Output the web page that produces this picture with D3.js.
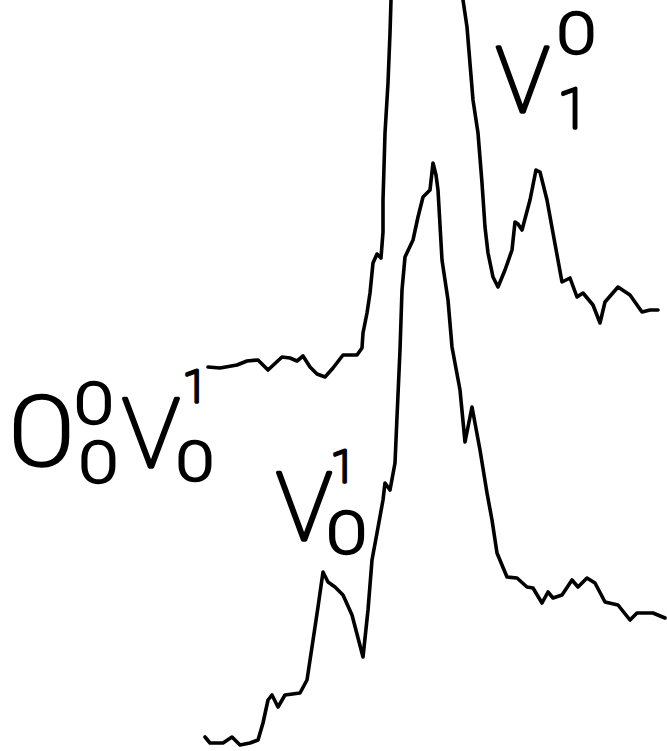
<!DOCTYPE html>
<html>
<head>
<meta charset="utf-8">
<script src="https://cdn.jsdelivr.net/npm/d3@7"></script>
<style>
  html, body { margin: 0; padding: 0; background: #fff; }
  svg { display: block; }
  .lbl { font-family: Roboto, "DejaVu Sans", sans-serif; font-weight: 100;
         fill: #000; stroke: #000; stroke-width: 3.4; stroke-linejoin: round; }
</style>
</head>
<body>
<svg id="chart" width="667" height="751"></svg>
<script>
// Upper trace: band around the strong origin peak, with the V(1,0) shoulder to the right
const upperX = [1.6, 4.0, 7.4, 9.4, 11.6, 13.6, 16.4, 18.0, 19.4, 20.6, 22.0, 23.4, 25.0, 26.6,
  28.6, 31.4, 32.4, 32.6, 33.4, 34.0, 34.6, 35.4, 36.2, 36.6, 36.6, 36.8, 37.0, 37.6, 38.0, 38.2, 38.4,
  52.4, 52.6, 53.4, 54.6, 55.6, 56.4, 57.0, 57.6, 58.6, 59.6, 61.0, 62.4, 63.0, 63.6, 64.4, 66.0,
  67.2, 68.0, 69.4, 70.6, 72.4, 74.0, 75.4, 76.6, 78.6, 80.0, 81.0, 83.6, 86.0, 88.4, 90.0, 91.6];
const upperY = [76.8, 76.6, 77.2, 78.0, 78.2, 76.2, 78.8, 78.6, 78.0, 79.0, 76.8, 75.4, 74.8, 76.6,
  79.2, 79.2, 80.6, 83.6, 87.6, 91.6, 97.6, 99.4, 98.6, 103.8, 110.2, 116.8, 123.6, 133.6, 143.6, 150.2, 156.2,
  156.2, 150.2, 144.8, 130.2, 123.6, 113.6, 104.8, 99.6, 94.8, 92.8, 96.2, 100.2, 105.8, 105.4, 104.2, 110.2,
  116.2, 115.8, 110.2, 103.6, 93.8, 94.6, 90.8, 91.6, 89.2, 85.6, 89.8, 92.8, 91.2, 87.8, 88.2, 88.2];

// Lower trace: V(0,1) band and its neighbours
const lowerX = [1.0, 2.0, 4.6, 6.4, 8.0, 10.0, 11.6, 12.6, 13.6, 14.4, 15.6, 17.0, 20.0, 21.4, 22.4,
  23.6, 24.6, 25.6, 27.0, 28.6, 30.4, 32.6, 33.6, 34.4, 35.4, 36.6, 37.0, 38.0, 39.0, 39.4, 40.0,
  40.4, 41.0, 42.6, 43.6, 44.6, 46.0, 46.6, 47.2, 47.6, 48.4, 49.6, 50.4, 52.0, 53.0, 54.4, 56.0,
  57.4, 58.4, 59.4, 61.4, 63.4, 65.4, 66.6, 68.4, 69.6, 70.6, 72.4, 74.4, 75.6, 77.4, 79.0, 81.0,
  83.6, 86.0, 87.4, 90.6, 93.0];
const lowerY = [2.8, 1.6, 1.6, 2.8, 1.2, 1.6, 2.2, 5.6, 10.2, 11.2, 8.8, 11.2, 11.6, 14.2, 20.8,
  28.8, 35.8, 33.8, 32.8, 31.2, 27.2, 18.8, 28.2, 38.2, 43.6, 50.2, 53.6, 52.2, 57.6, 66.8, 80.2,
  92.2, 98.8, 102.2, 106.8, 110.8, 112.2, 117.6, 115.2, 112.2, 98.2, 90.2, 80.8, 72.2, 61.8, 68.8, 60.2,
  51.6, 46.2, 39.6, 34.8, 34.6, 32.8, 32.6, 29.6, 31.8, 30.6, 31.2, 34.2, 32.8, 34.6, 33.6, 29.8,
  29.2, 26.2, 27.6, 27.6, 26.6];

// Band labels (anchors in the traces' own units)
const labelText = ["V", "0", "1",  "0", "0", "0", "V", "1", "0",  "V", "1", "0"];
const labelX    = [64.5, 75.3, 74.6, -31.7, -21.2, -20.3, -9.8, -1.0, -1.0, 20.8, 28.6, 29.3];
const labelY    = [127.8, 139.6, 124.6, 57.2, 65.6, 53.8, 56.8, 69.8, 54.2, 42.2, 53.8, 39.6];
const labelSize = [90, 56, 56, 96, 56, 56, 97, 45, 54, 94, 45, 58];

const W = 667, H = 751;
const svg = d3.select("#chart");
const x = d3.scaleLinear().domain([0, 93.4]).range([200, W]);
const y = d3.scaleLinear().domain([0, 150.2]).range([H, 0]);

const line = d3.line().x(d => x(d[0])).y(d => y(d[1]));

[[upperX, upperY], [lowerX, lowerY]].forEach(([xs, ys]) => {
  svg.append("path")
    .datum(d3.zip(xs, ys))
    .attr("d", line)
    .attr("fill", "none")
    .attr("stroke", "#000")
    .attr("stroke-width", 3.6)
    .attr("stroke-linejoin", "round")
    .attr("stroke-linecap", "round");
});

// Lettering-guide zeros are rounder than the font's digit, so widen them a little
svg.selectAll("text.lbl")
  .data(d3.range(labelText.length))
  .join("text")
  .attr("class", "lbl")
  .attr("text-anchor", "middle")
  .attr("transform", i => `translate(${x(labelX[i])},${y(labelY[i])}) scale(${labelText[i] === "0" ? 1.25 : 1},1)`)
  .attr("font-size", i => labelSize[i])
  .text(i => labelText[i]);
</script>
</body>
</html>
